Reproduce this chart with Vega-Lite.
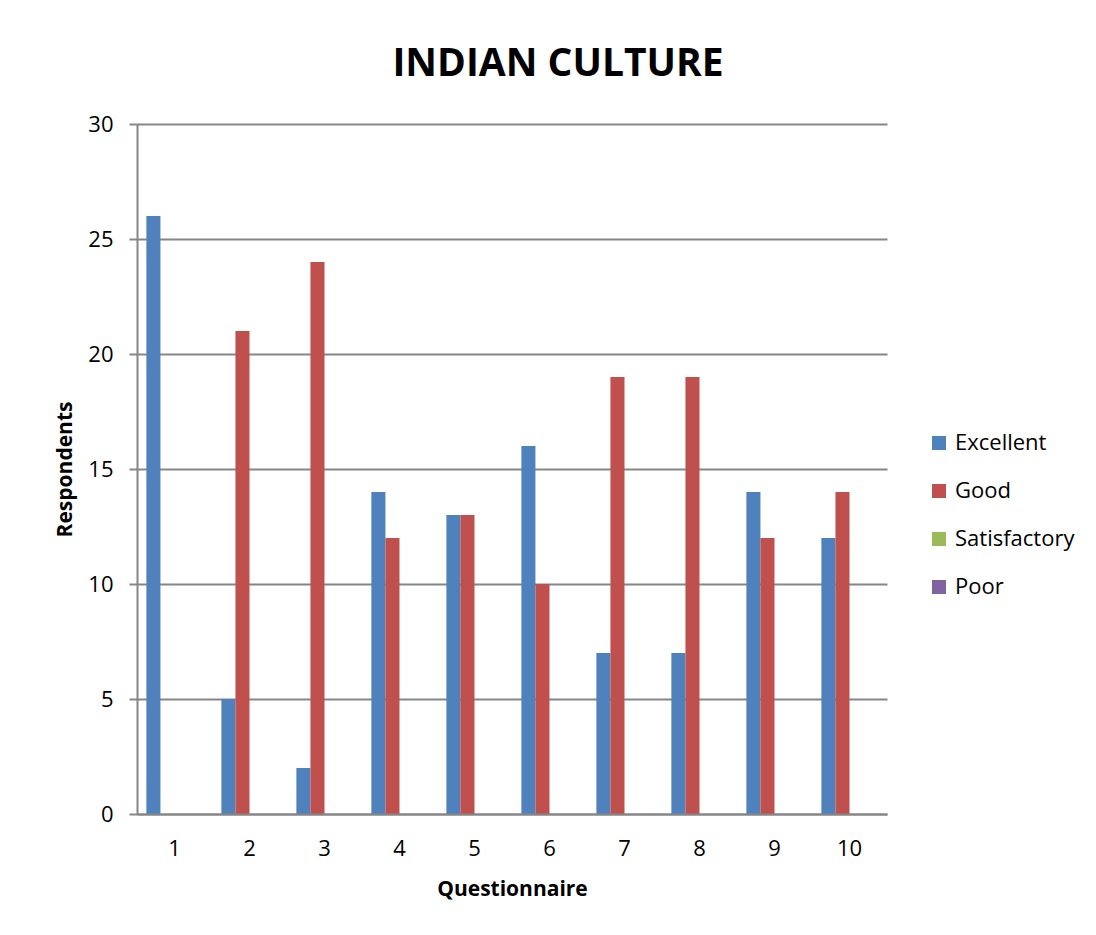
{
  "$schema": "https://vega.github.io/schema/vega-lite/v6.json",
  "width": 750,
  "height": 690,
  "autosize": {"type": "none"},
  "padding": {"left": 137, "top": 124, "right": 209, "bottom": 121},
  "background": "white",
  "config": {
    "font": "Open Sans",
    "view": {"stroke": null},
    "axis": {"labelColor": "black", "titleColor": "black"}
  },
  "title": {
    "text": "INDIAN CULTURE",
    "fontSize": 39,
    "fontWeight": "bold",
    "font": "Open Sans",
    "color": "black",
    "anchor": "middle",
    "frame": "group",
    "dx": 46,
    "offset": 29
  },
  "data": {
    "values": [
      {"q": 1, "rating": "Excellent", "n": 26}, {"q": 1, "rating": "Good", "n": 0}, {"q": 1, "rating": "Satisfactory", "n": 0}, {"q": 1, "rating": "Poor", "n": 0},
      {"q": 2, "rating": "Excellent", "n": 5}, {"q": 2, "rating": "Good", "n": 21}, {"q": 2, "rating": "Satisfactory", "n": 0}, {"q": 2, "rating": "Poor", "n": 0},
      {"q": 3, "rating": "Excellent", "n": 2}, {"q": 3, "rating": "Good", "n": 24}, {"q": 3, "rating": "Satisfactory", "n": 0}, {"q": 3, "rating": "Poor", "n": 0},
      {"q": 4, "rating": "Excellent", "n": 14}, {"q": 4, "rating": "Good", "n": 12}, {"q": 4, "rating": "Satisfactory", "n": 0}, {"q": 4, "rating": "Poor", "n": 0},
      {"q": 5, "rating": "Excellent", "n": 13}, {"q": 5, "rating": "Good", "n": 13}, {"q": 5, "rating": "Satisfactory", "n": 0}, {"q": 5, "rating": "Poor", "n": 0},
      {"q": 6, "rating": "Excellent", "n": 16}, {"q": 6, "rating": "Good", "n": 10}, {"q": 6, "rating": "Satisfactory", "n": 0}, {"q": 6, "rating": "Poor", "n": 0},
      {"q": 7, "rating": "Excellent", "n": 7}, {"q": 7, "rating": "Good", "n": 19}, {"q": 7, "rating": "Satisfactory", "n": 0}, {"q": 7, "rating": "Poor", "n": 0},
      {"q": 8, "rating": "Excellent", "n": 7}, {"q": 8, "rating": "Good", "n": 19}, {"q": 8, "rating": "Satisfactory", "n": 0}, {"q": 8, "rating": "Poor", "n": 0},
      {"q": 9, "rating": "Excellent", "n": 14}, {"q": 9, "rating": "Good", "n": 12}, {"q": 9, "rating": "Satisfactory", "n": 0}, {"q": 9, "rating": "Poor", "n": 0},
      {"q": 10, "rating": "Excellent", "n": 12}, {"q": 10, "rating": "Good", "n": 14}, {"q": 10, "rating": "Satisfactory", "n": 0}, {"q": 10, "rating": "Poor", "n": 0}
    ]
  },
  "mark": {"type": "bar"},
  "encoding": {
    "x": {
      "field": "q",
      "type": "ordinal",
      "sort": "ascending",
      "scale": {"paddingInner": 0.25, "paddingOuter": 0.125},
      "axis": {
        "title": "Questionnaire",
        "titleFontSize": 21,
        "titleFontWeight": "bold",
        "titlePadding": 19,
        "labelFontSize": 22,
        "labelAngle": 0,
        "labelPadding": 24,
        "ticks": false,
        "domainColor": "#868686",
        "domainWidth": 2,
        "zindex": 1
      }
    },
    "xOffset": {
      "field": "rating",
      "type": "nominal",
      "sort": ["Excellent", "Good", "Satisfactory", "Poor"],
      "scale": {"paddingInner": 0, "paddingOuter": 0}
    },
    "y": {
      "field": "n",
      "type": "quantitative",
      "scale": {"domain": [0, 30], "nice": false},
      "axis": {
        "title": "Respondents",
        "titleFontSize": 21,
        "titleFontWeight": "bold",
        "titlePadding": 12,
        "values": [0, 5, 10, 15, 20, 25, 30],
        "labelFontSize": 22,
        "labelPadding": 16,
        "tickSize": 8,
        "tickColor": "#868686",
        "tickWidth": 2,
        "domainColor": "#868686",
        "domainWidth": 2,
        "grid": true,
        "gridColor": "#868686",
        "gridWidth": 2
      }
    },
    "color": {
      "field": "rating",
      "type": "nominal",
      "sort": ["Excellent", "Good", "Satisfactory", "Poor"],
      "scale": {
        "domain": ["Excellent", "Good", "Satisfactory", "Poor"],
        "range": ["#4F81BD", "#C0504D", "#9BBB59", "#8064A2"]
      },
      "legend": {
        "title": null,
        "orient": "none",
        "legendX": 791,
        "legendY": 308,
        "symbolType": "square",
        "symbolSize": 196,
        "symbolStrokeWidth": 0,
        "labelFontSize": 22,
        "labelColor": "black",
        "labelOffset": 5,
        "rowPadding": 26,
        "padding": 0
      }
    }
  }
}
